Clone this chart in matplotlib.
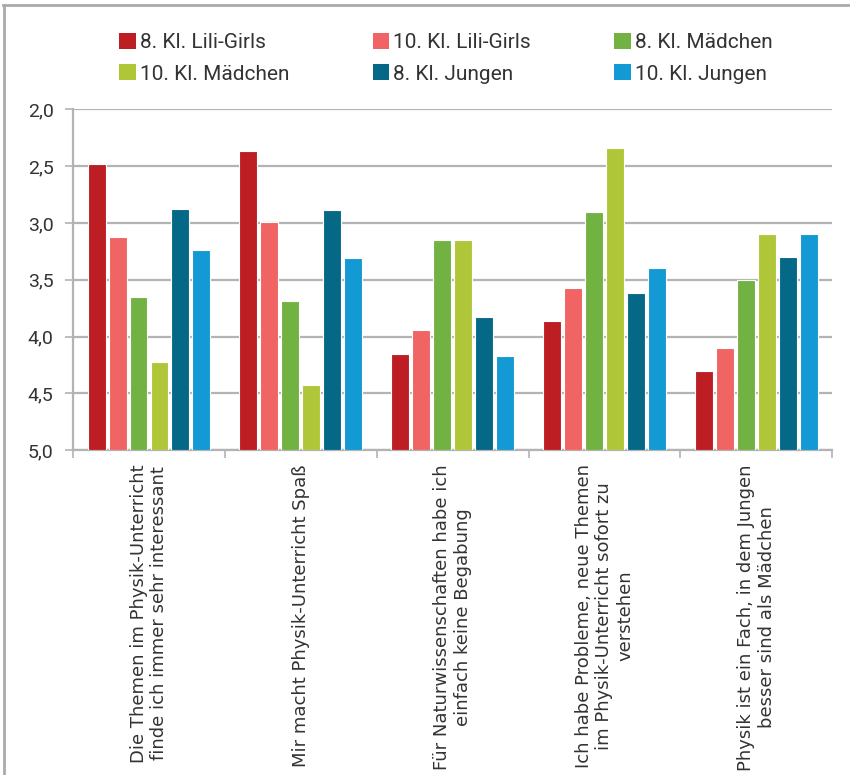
import matplotlib
matplotlib.use('Agg')
import matplotlib.pyplot as plt
from matplotlib.lines import Line2D
from matplotlib.patches import Patch
import numpy as np

categories = [
    'Die Themen im Physik-Unterricht\nfinde ich immer sehr interessant',
    'Mir macht Physik-Unterricht Spaß',
    'Für Naturwissenschaften habe ich\neinfach keine Begabung',
    'Ich habe Probleme, neue Themen\nim Physik-Unterricht sofort zu\nverstehen',
    'Physik ist ein Fach, in dem Jungen\nbesser sind als Mädchen',
]
series_names = ['8. Kl. Lili-Girls', '10. Kl. Lili-Girls', '8. Kl. Mädchen',
                '10. Kl. Mädchen', '8. Kl. Jungen', '10. Kl. Jungen']
lili8 = [2.48, 2.37, 4.15, 3.86, 4.30]
lili10 = [3.12, 2.99, 3.94, 3.57, 4.10]
maed8 = [3.65, 3.69, 3.15, 2.90, 3.50]
maed10 = [4.22, 4.43, 3.15, 2.34, 3.10]
jung8 = [2.88, 2.89, 3.83, 3.62, 3.30]
jung10 = [3.24, 3.31, 4.17, 3.40, 3.10]
colors = ['#BD1E24', '#F06464', '#72B243', '#AEC637', '#066887', '#1399D3']
yticks = [2.0, 2.5, 3.0, 3.5, 4.0, 4.5, 5.0]

narrow = 'Roboto'

fig = plt.figure(figsize=(8.5, 7.75), dpi=100)
ax = fig.add_axes([0.086, 0.419, 0.893, 0.440])

x = np.arange(len(categories))
step = 0.138
width = 0.118
all_series = [lili8, lili10, maed8, maed10, jung8, jung10]
for k, vals in enumerate(all_series):
    vals = np.array(vals)
    ax.bar(x + (k - 2.5) * step, vals - 5.0, bottom=5.0, width=width,
           color=colors[k], edgecolor='white', linewidth=0.8, zorder=3)

ax.set_ylim(5.0, 2.0)
ax.set_xlim(-0.5, len(categories) - 0.5)
ax.set_yticks(yticks)
ax.set_yticklabels([f'{v:.1f}'.replace('.', ',') for v in yticks],
                   fontsize=14, family=narrow, color='#333333')
ax.yaxis.grid(True, color='#b3b3b3', linewidth=1.6, zorder=0)
ax.set_axisbelow(True)

ax.set_xticks(x)
ax.set_xticklabels(categories, rotation=90, fontsize=13, ha='center', va='top',
                   multialignment='center', color='#333333', family='DejaVu Sans')
ax.tick_params(axis='x', length=0, pad=10)
ax.set_xticks(np.arange(len(categories) + 1) - 0.5, minor=True)
ax.tick_params(axis='x', which='minor', length=6, color='#b3b3b3', width=1.2)
ax.tick_params(axis='y', length=6, color='#b3b3b3', width=1.2, pad=8)

for s in ['top', 'right']:
    ax.spines[s].set_visible(False)
for s in ['left', 'bottom']:
    ax.spines[s].set_color('#b3b3b3')
    ax.spines[s].set_linewidth(1.6)

handles = [Patch(facecolor=c, edgecolor='none') for c in colors]
# legend fills column-wise, so reorder to get row-wise order
order = [0, 3, 1, 4, 2, 5]
fig.legend([handles[i] for i in order], [series_names[i] for i in order],
           ncol=3, loc='upper left', bbox_to_anchor=(0.118, 0.982),
           frameon=False, handlelength=0.8, handleheight=0.8, handletextpad=0.2,
           columnspacing=4.0, labelspacing=0.6,
           prop={'family': narrow, 'size': 15}, labelcolor='#333333')

fig.add_artist(Line2D([0.005, 0.005], [0, 0.994], transform=fig.transFigure,
                      color='#aaaaaa', linewidth=2))
fig.add_artist(Line2D([0.004, 1.0], [0.994, 0.994], transform=fig.transFigure,
                      color='#aaaaaa', linewidth=2))

fig.savefig('out.png', dpi=100, facecolor='white')
